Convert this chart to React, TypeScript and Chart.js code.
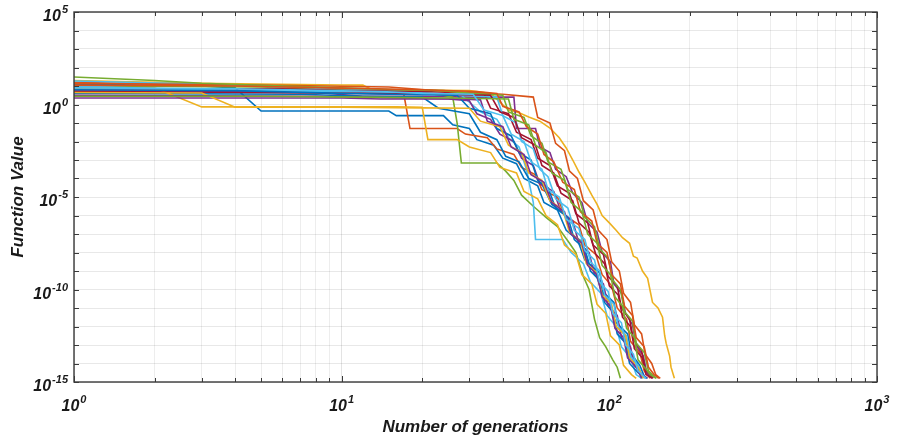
import React, { useEffect, useRef } from "react";
import { Chart, registerables } from "chart.js";

Chart.register(...registerables);

// MATLAB default line colour order
const lineColors = ["#0072BD", "#D95319", "#EDB120", "#7E2F8E", "#77AC30", "#4DBEEE", "#A2142F"];

// Each run: [generation, log10(function value)]
const run01 = [[1,1.1],[3,1.0],[4,0.9],[5,-0.35],[15,-0.35],[16,-0.6],[24,-0.6],[26,-1.1],[30,-1.3],[32,-1.9],[37,-2.2],[40,-2.9],[45,-3.2],[48,-4.0],[54,-4.4],[57,-5.3],[64,-5.7],[69,-6.8],[76,-7.3],[81,-8.4],[88,-8.9],[93,-10.0],[100,-10.6],[105,-11.7],[113,-12.3],[117,-13.4],[127,-14.0],[133,-14.8]];
const run02 = [[1,1.2],[2,1.1],[6,1.0],[10,0.85],[17,0.7],[18,-1.3],[27,-1.3],[29,-1.6],[35,-1.8],[38,-2.4],[44,-2.7],[47,-3.4],[53,-3.8],[56,-4.6],[64,-5.0],[68,-6.0],[77,-6.5],[81,-7.6],[89,-8.1],[94,-9.2],[102,-9.8],[107,-11.0],[116,-11.6],[120,-12.8],[130,-13.4],[135,-14.4],[142,-14.8]];
const run03 = [[1,1.3],[3,1.15],[10,1.05],[12,1.05],[13,0.8],[30,0.75],[36,0.6],[42,-0.3],[46,-0.45],[50,-0.68],[55,-0.9],[60,-1.27],[65,-1.8],[69,-2.35],[73,-3.0],[77,-3.65],[81,-4.2],[86,-4.9],[90,-5.4],[94,-6.0],[100,-6.4],[106,-6.8],[112,-7.2],[119,-7.5],[123,-8.2],[127,-8.3],[133,-9.0],[139,-9.4],[145,-10.7],[152,-11.0],[158,-11.5],[161,-12.5],[163,-12.9],[168,-13.6],[170,-14.2],[175,-14.8]];
const run04 = [[1,0.75],[4,0.7],[8,0.65],[12,0.45],[20,0.45],[30,0.4],[44,0.4],[45,-1.3],[53,-1.3],[55,-2.3],[60,-2.6],[63,-3.5],[69,-3.9],[73,-4.8],[79,-5.3],[83,-6.4],[90,-6.9],[94,-8.0],[101,-8.5],[104,-9.7],[111,-10.2],[115,-11.3],[122,-11.9],[126,-13.0],[134,-13.6],[138,-14.5],[144,-14.8]];
const run05 = [[1,1.0],[5,0.95],[10,0.8],[18,0.7],[24,0.5],[26,0.4],[27,-1.0],[28,-3.16],[38,-3.16],[41,-3.6],[44,-4.1],[47,-4.9],[52,-5.5],[58,-6.1],[64,-6.6],[71,-7.5],[75,-8.0],[78,-8.8],[80,-9.3],[84,-10.0],[88,-11.6],[92,-12.6],[97,-13.1],[103,-13.8],[107,-14.2],[110,-14.8]];
const run06 = [[1,1.27],[3,1.1],[8,0.9],[14,0.8],[22,0.6],[28,0.5],[33,-0.4],[38,-0.8],[42,-1.8],[46,-2.3],[49,-3.5],[52,-5.3],[53,-7.3],[67,-7.3],[72,-8.0],[80,-8.6],[85,-9.6],[93,-10.2],[98,-11.4],[106,-12.0],[111,-13.1],[120,-13.7],[126,-14.6],[132,-14.8]];
const run07 = [[1,0.85],[6,0.85],[10,0.75],[20,0.7],[34,0.6],[36,-0.2],[42,-0.5],[45,-1.5],[51,-1.9],[54,-2.9],[60,-3.3],[64,-4.4],[71,-4.8],[75,-5.9],[83,-6.4],[87,-7.6],[95,-8.1],[99,-9.3],[107,-9.8],[111,-11.0],[119,-11.6],[123,-12.7],[132,-13.3],[136,-14.3],[146,-14.8]];
const run08 = [[1,0.6],[7,0.55],[12,0.45],[20,0.4],[23,-0.2],[30,-0.5],[33,-1.5],[38,-1.9],[41,-2.8],[46,-3.1],[50,-4.0],[56,-4.3],[61,-5.4],[68,-5.9],[72,-7.0],[79,-7.4],[84,-8.6],[92,-9.1],[96,-10.2],[104,-10.7],[108,-11.9],[117,-12.4],[121,-13.5],[130,-14.1],[136,-14.8]];
const run09 = [[1,1.15],[5,1.05],[15,0.95],[25,0.7],[40,0.55],[52,0.4],[54,-0.7],[60,-1.0],[63,-2.1],[68,-2.5],[71,-3.6],[76,-4.0],[80,-5.2],[87,-5.7],[91,-6.8],[98,-7.3],[102,-8.5],[109,-9.0],[113,-10.2],[120,-10.7],[124,-11.9],[132,-12.4],[136,-13.5],[144,-14.0],[149,-14.6],[155,-14.8]];
const run10 = [[1,0.9],[2,0.9],[3,-0.13],[12,-0.13],[16,-0.13],[20,-0.15],[21,-1.9],[27,-1.9],[30,-2.3],[36,-2.6],[39,-3.4],[45,-3.7],[48,-4.7],[54,-5.1],[58,-6.0],[64,-6.5],[68,-7.6],[75,-8.1],[79,-9.2],[86,-9.7],[90,-10.8],[97,-11.3],[101,-12.5],[109,-13.0],[113,-14.1],[121,-14.6],[126,-14.8]];
const run11 = [[1,0.35],[10,0.35],[14,0.3],[25,0.3],[30,0.2],[32,-0.5],[36,-0.8],[39,-1.6],[44,-2.0],[47,-2.9],[52,-3.3],[55,-4.3],[62,-4.7],[66,-5.8],[73,-6.3],[77,-7.5],[84,-8.0],[88,-9.2],[95,-9.7],[99,-10.9],[107,-11.4],[111,-12.6],[120,-13.1],[124,-14.1],[133,-14.6],[139,-14.8]];
const run12 = [[1,1.49],[2,1.3],[3,1.15],[6,1.0],[10,0.9],[16,0.8],[24,0.75],[30,0.6],[40,0.5],[42,-0.4],[48,-0.7],[51,-1.7],[56,-2.1],[59,-3.1],[66,-3.5],[70,-4.6],[77,-5.0],[81,-6.1],[88,-6.6],[92,-7.8],[99,-8.3],[103,-9.5],[110,-10.0],[114,-11.2],[122,-11.7],[126,-12.9],[135,-13.4],[140,-14.4],[149,-14.8]];
const run13 = [[1,1.0],[3,0.8],[9,0.7],[18,0.6],[28,0.5],[38,0.4],[40,-0.6],[45,-1.0],[47,-2.0],[52,-2.4],[55,-3.5],[59,-3.9],[63,-5.1],[70,-5.6],[74,-6.8],[81,-7.3],[85,-8.5],[92,-9.0],[96,-10.3],[104,-10.8],[108,-12.0],[116,-12.5],[120,-13.6],[128,-14.1],[134,-14.8]];
const run14 = [[1,0.7],[5,0.65],[12,0.6],[22,0.55],[36,0.5],[39,-0.4],[44,-0.7],[47,-1.8],[53,-2.2],[56,-3.3],[62,-3.7],[66,-4.8],[73,-5.2],[77,-6.4],[84,-6.9],[89,-8.1],[96,-8.6],[100,-9.8],[108,-10.3],[112,-11.5],[120,-12.0],[124,-13.2],[133,-13.7],[137,-14.6],[145,-14.8]];
const run15 = [[1,0.8],[4,0.75],[10,0.6],[15,0.55],[27,0.5],[30,-0.2],[36,-0.5],[38,-1.3],[43,-1.7],[46,-2.6],[51,-3.0],[54,-4.1],[59,-4.5],[63,-5.6],[70,-6.1],[74,-7.3],[81,-7.8],[85,-9.0],[92,-9.5],[96,-10.7],[103,-11.2],[107,-12.4],[115,-12.9],[119,-14.0],[128,-14.5],[138,-14.8]];
const run16 = [[1,1.05],[4,1.0],[9,0.9],[20,0.8],[32,0.7],[38,0.6],[40,-0.1],[46,-0.4],[49,-1.2],[54,-1.6],[57,-2.7],[62,-3.1],[67,-4.2],[74,-4.6],[78,-5.8],[86,-6.3],[90,-7.5],[98,-8.0],[102,-9.2],[110,-9.7],[114,-10.9],[122,-11.4],[126,-12.6],[135,-13.1],[140,-14.2],[147,-14.6],[153,-14.8]];
const run17 = [[1,0.65],[3,0.62],[4,-0.15],[10,-0.15],[20,-0.18],[30,-0.2],[33,-0.9],[39,-1.2],[42,-2.2],[47,-2.6],[50,-3.7],[56,-4.1],[60,-5.2],[67,-5.7],[71,-6.9],[78,-7.4],[82,-8.6],[90,-9.1],[94,-10.3],[102,-10.8],[106,-12.0],[115,-12.5],[119,-13.7],[128,-14.2],[134,-14.8]];
const run18 = [[1,0.5],[8,0.45],[16,0.35],[28,0.3],[33,0.25],[35,-0.9],[40,-1.2],[43,-2.3],[48,-2.7],[51,-3.8],[57,-4.2],[61,-5.3],[68,-5.8],[72,-7.0],[79,-7.5],[83,-8.7],[90,-9.2],[94,-10.4],[101,-10.9],[105,-12.1],[113,-12.6],[117,-13.7],[126,-14.2],[132,-14.8]];
const run19 = [[1,0.45],[5,0.45],[12,0.4],[25,0.35],[42,0.3],[44,-0.8],[50,-1.1],[53,-2.2],[58,-2.6],[61,-3.7],[68,-4.1],[72,-5.3],[79,-5.8],[83,-7.0],[90,-7.5],[94,-8.7],[101,-9.2],[105,-10.4],[112,-10.9],[116,-12.1],[124,-12.6],[128,-13.8],[137,-14.3],[142,-14.6],[150,-14.8]];
const run20 = [[1,0.9],[4,0.85],[9,0.75],[14,0.7],[20,0.6],[31,0.55],[34,-0.3],[40,-0.6],[43,-1.6],[48,-2.0],[51,-3.1],[56,-3.5],[59,-4.6],[65,-5.0],[69,-6.2],[77,-6.7],[81,-7.9],[88,-8.4],[92,-9.6],[99,-10.1],[103,-11.3],[111,-11.8],[115,-13.0],[123,-13.5],[128,-14.4],[137,-14.8]];

const runs = [run01, run02, run03, run04, run05, run06, run07, run08, run09, run10,
  run11, run12, run13, run14, run15, run16, run17, run18, run19, run20];

// Axis ranges, grid positions and tick labels
const xMin = 1;
const xMax = 1000;
const yMin = 1e-15;
const yMax = 1e5;
const xGridValues = [1, 2, 3, 4, 5, 6, 7, 8, 9, 10, 20, 30, 40, 50, 60, 70, 80, 90, 100, 200, 300, 400, 500, 600, 700, 800, 900, 1000];
const xMajorValues = [1, 10, 100, 1000];
const yGridValues = [1e-15, 1e-14, 1e-13, 1e-12, 1e-11, 1e-10, 1e-9, 1e-8, 1e-7, 1e-6, 1e-5, 1e-4, 1e-3, 1e-2, 1e-1, 1, 1e1, 1e2, 1e3, 1e4, 1e5];
const xTickLabelExponents = ["0", "1", "2", "3"];
const yTickLabelValues = [1e-15, 1e-10, 1e-5, 1, 1e5];
const yTickLabelExponents = ["-15", "-10", "-5", "0", "5"];
const xAxisTitle = "Number of generations";
const yAxisTitle = "Function Value";

const FONT = '"Liberation Sans", Arial, sans-serif';

const decorPlugin = {
  id: "decor",
  afterDraw(chart: any) {
    const { ctx, chartArea: a, scales } = chart;
    const xs = scales.x;
    const ys = scales.y;
    ctx.save();
    // tick marks (inward, all four sides)
    ctx.strokeStyle = "#3a3a3a";
    ctx.lineWidth = 1;
    ctx.beginPath();
    xGridValues.forEach((v) => {
      const px = Math.round(xs.getPixelForValue(v)) + 0.5;
      const len = xMajorValues.includes(v) ? 6 : 4;
      ctx.moveTo(px, a.bottom);
      ctx.lineTo(px, a.bottom - len);
      ctx.moveTo(px, a.top);
      ctx.lineTo(px, a.top + len);
    });
    yGridValues.forEach((v) => {
      const py = Math.round(ys.getPixelForValue(v)) + 0.5;
      ctx.moveTo(a.left, py);
      ctx.lineTo(a.left + 5, py);
      ctx.moveTo(a.right, py);
      ctx.lineTo(a.right - 5, py);
    });
    ctx.stroke();
    // box
    ctx.strokeStyle = "#3a3a3a";
    ctx.lineWidth = 1.4;
    ctx.strokeRect(a.left, a.top, a.right - a.left, a.bottom - a.top);

    // tick labels
    ctx.fillStyle = "#1a1a1a";
    ctx.textBaseline = "alphabetic";
    ctx.textAlign = "left";
    const baseFont = `italic bold 16px ${FONT}`;
    const supFont = `italic bold 11px ${FONT}`;
    const measure = (exp: string) => {
      ctx.font = baseFont;
      const w1 = ctx.measureText("10").width;
      ctx.font = supFont;
      const w2 = ctx.measureText(exp).width;
      return [w1, w2];
    };
    const drawPow = (exp: string, left: number, baseline: number) => {
      const [w1] = measure(exp);
      ctx.font = baseFont;
      ctx.fillText("10", left, baseline);
      ctx.font = supFont;
      ctx.fillText(exp, left + w1 + 1, baseline - 8);
    };
    xMajorValues.forEach((v, i) => {
      const exp = xTickLabelExponents[i];
      const [w1, w2] = measure(exp);
      const px = xs.getPixelForValue(v);
      drawPow(exp, px - (w1 + w2 + 1) / 2, 411);
    });
    yTickLabelValues.forEach((v, i) => {
      const exp = yTickLabelExponents[i];
      const [w1, w2] = measure(exp);
      const py = ys.getPixelForValue(v);
      drawPow(exp, a.left - 6 - (w1 + w2 + 1), py + 9);
    });

    // axis titles
    ctx.font = `italic bold 17px ${FONT}`;
    ctx.textAlign = "center";
    ctx.fillText(xAxisTitle, (a.left + a.right) / 2, 432);
    ctx.translate(23, (a.top + a.bottom) / 2);
    ctx.rotate(-Math.PI / 2);
    ctx.fillText(yAxisTitle, 0, 0);
    ctx.restore();
  },
};

export default function App() {
  const canvasRef = useRef<HTMLCanvasElement | null>(null);

  useEffect(() => {
    const canvas = canvasRef.current;
    if (!canvas) return;
    const datasets = runs.map((run, i) => ({
      label: `Run ${i + 1}`,
      data: run.map(([g, e]) => ({ x: g, y: Math.pow(10, e) })),
      borderColor: lineColors[i % lineColors.length],
      backgroundColor: lineColors[i % lineColors.length],
      borderWidth: 1.6,
      pointRadius: 0,
      tension: 0,
      fill: false,
      order: -i,
    }));
    const chart = new Chart(canvas, {
      type: "line",
      data: { datasets },
      options: {
        animation: false,
        responsive: false,
        maintainAspectRatio: false,
        layout: { padding: { left: 74, right: 21, top: 12, bottom: 61 } },
        plugins: { legend: { display: false }, tooltip: { enabled: false } },
        scales: {
          x: {
            type: "logarithmic",
            min: xMin,
            max: xMax,
            afterBuildTicks: (scale: any) => {
              scale.ticks = xGridValues.map((v) => ({ value: v }));
            },
            ticks: { display: false },
            grid: {
              drawTicks: false,
              color: (c: any) => (xMajorValues.includes(c.tick?.value) ? "rgba(0,0,0,0.11)" : "rgba(0,0,0,0.07)"),
              lineWidth: 1,
            },
            border: { display: false },
            title: { display: false },
          },
          y: {
            type: "logarithmic",
            min: yMin,
            max: yMax,
            afterBuildTicks: (scale: any) => {
              scale.ticks = yGridValues.map((v) => ({ value: v }));
            },
            ticks: { display: false },
            grid: { drawTicks: false, color: "rgba(0,0,0,0.09)", lineWidth: 1 },
            border: { display: false },
            title: { display: false },
          },
        },
      },
      plugins: [decorPlugin],
    } as any);
    return () => chart.destroy();
  }, []);

  return (
    <div style={{ position: "fixed", left: 0, top: 0, width: 898, height: 443, background: "#fff" }}>
      <canvas ref={canvasRef} width={898} height={443} style={{ display: "block" }} />
    </div>
  );
}
